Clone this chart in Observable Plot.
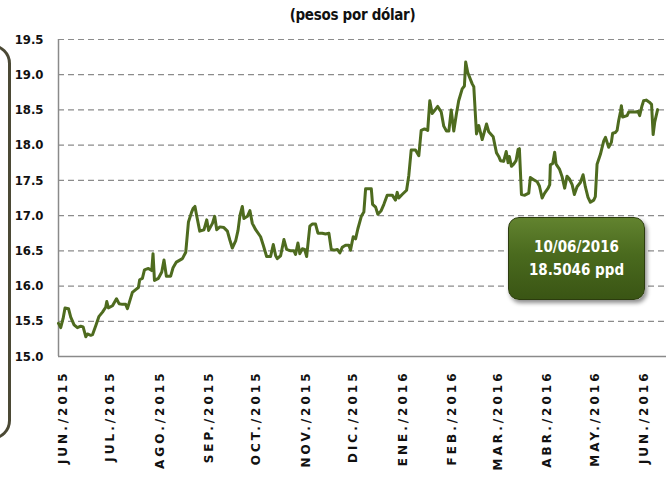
<!DOCTYPE html>
<html>
<head>
<meta charset="utf-8">
<script src="https://cdn.jsdelivr.net/npm/d3@7"></script>
<script src="https://cdn.jsdelivr.net/npm/@observablehq/plot@0.6"></script>
<style>
  html, body { margin: 0; padding: 0; background: #fff; }
  #wrap { position: relative; width: 667px; height: 479px; overflow: hidden; }
  .narrow { font-family: "DejaVu Sans", sans-serif; font-stretch: condensed; font-weight: bold; }
  #title { position: absolute; left: 0; width: 705px; top: 6px; text-align: center; font-size: 15px; color: #111; letter-spacing: -0.3px; }
  #deco { position: absolute; left: -28px; top: 44px; width: 33px; height: 390px;
    border: 3px solid #4b4935; border-radius: 30px; }
  #note { position: absolute; left: 508px; top: 217px; width: 135px; height: 81px;
    border-radius: 11px; border: 1.5px solid #2c3c0e;
    background: linear-gradient(#62832f, #4a6a1e 45%, #3a5514);
    box-shadow: 2px 3px 4px rgba(0,0,0,0.45);
    color: #fff; text-align: center; font-size: 15px; line-height: 23px;
    display: flex; flex-direction: column; justify-content: center; }
  #chart { position: absolute; left: 0; top: 0; }
  g[aria-label="x-axis tick label"] text { letter-spacing: 3px; }
  g[aria-label="y-axis tick label"] text { font-stretch: condensed; }
</style>
</head>
<body>
<div id="wrap">
  <div id="chart"></div>
  <div id="deco"></div>
  <div id="title" class="narrow">(pesos por dólar)</div>
  <div id="note" class="narrow"><div>10/06/2016</div><div>18.5046 ppd</div></div>
</div>
<script>
// days after 1 June 2015
const dayOffsets = [-2.7,-1.3,0.2,1.4,3.6,5.0,7.1,9.2,11.3,12.8,14.5,15.5,17.6,18.7,20.8,22.8,25.0,27.0,27.7,28.7,
  31.3,33.8,35.4,37.5,39.6,40.7,43.8,45.9,47.6,48.4,50.1,51.4,53.9,56.0,56.8,57.7,60.2,62.3,63.7,65.2,
  67.9,69.4,71.5,75.3,77.4,79.1,81.1,82.0,83.2,84.1,86.2,88.9,90.6,91.8,94.2,95.6,96.9,98.9,101.4,103.6,
  105.2,106.7,108.8,110.3,111.5,113.0,114.0,116.2,117.8,119.3,121.4,124.5,126.2,128.3,130.8,132.5,134.0,135.0,137.1,139.2,
  140.9,143.4,145.5,146.5,148.0,149.2,150.8,152.2,153.5,155.5,157.0,159.1,160.6,163.3,165.4,167.5,169.0,171.1,172.8,174.4,
  175.9,178.0,180.1,181.1,182.8,184.3,185.7,187.9,189.5,190.6,194.2,195.0,196.9,198.3,200.4,202.1,204.2,207.4,209.4,210.5,
  211.5,213.6,216.4,217.8,219.3,222.0,224.1,225.6,227.7,229.7,231.0,232.5,234.0,236.0,238.2,239.8,241.5,243.0,244.5,246.1,
  247.8,249.2,251.4,252.8,253.6,254.9,257.7,258.7,260.4,261.8,264.0,266.7,268.1,270.9,273.0,274.4,275.5,277.5,279.1,280.3,
  281.1,282.4,283.8,285.3,286.6,287.4,288.7,290.8,293.3,294.3,296.4,298.6,300.0,301.7,303.3,305.5,306.5,306.9,308.4,309.6,
  310.5,312.6,314.3,315.9,317.4,318.9,320.6,322.0,323.7,325.8,327.5,328.9,330.6,332.1,334.2,335.2,336.3,338.4,340.5,341.6,
  343.6,345.3,346.1,347.8,348.9,349.9,351.0,351.6,352.4,355.2,356.2,358.3,360.4,362.1,363.1,364.6,365.6,367.2,369.2,370.6,
  371.6,372.6,374.4];
const rates = [15.47,15.41,15.54,15.69,15.68,15.56,15.45,15.41,15.43,15.42,15.28,15.32,15.30,15.31,15.44,15.57,15.63,15.70,15.78,15.69,
  15.72,15.82,15.75,15.74,15.74,15.68,15.91,15.95,15.98,16.09,16.11,16.23,16.25,16.22,16.46,16.08,16.11,16.20,16.37,16.14,
  16.14,16.26,16.34,16.39,16.48,16.91,17.05,17.10,17.13,17.02,16.78,16.80,16.94,16.79,16.89,16.99,16.80,16.84,16.83,16.78,
  16.65,16.54,16.64,16.79,17.00,17.13,16.96,16.99,17.07,16.89,16.80,16.70,16.58,16.42,16.42,16.59,16.43,16.39,16.43,16.66,
  16.52,16.50,16.50,16.45,16.61,16.46,16.53,16.52,16.42,16.85,16.88,16.88,16.75,16.75,16.74,16.75,16.52,16.51,16.52,16.47,
  16.55,16.58,16.58,16.51,16.70,16.67,16.81,16.99,17.05,17.38,17.38,17.16,17.12,17.02,17.07,17.16,17.29,17.29,17.22,17.33,
  17.25,17.30,17.36,17.57,17.93,17.93,17.85,18.21,18.23,18.21,18.63,18.45,18.49,18.55,18.47,18.27,18.20,18.20,18.50,18.20,
  18.45,18.63,18.80,18.84,19.18,19.03,18.87,18.83,18.16,18.28,18.08,18.30,18.19,18.12,17.89,17.84,17.78,17.77,17.91,17.75,
  17.84,17.70,17.73,17.78,17.94,17.95,17.30,17.29,17.32,17.54,17.51,17.48,17.42,17.25,17.32,17.39,17.44,17.72,17.74,17.90,
  17.73,17.66,17.55,17.39,17.56,17.52,17.44,17.30,17.41,17.47,17.58,17.41,17.26,17.19,17.22,17.27,17.73,17.87,18.06,18.11,
  17.97,18.04,18.17,18.18,18.21,18.35,18.47,18.56,18.40,18.42,18.47,18.47,18.47,18.48,18.42,18.56,18.63,18.64,18.61,18.58,
  18.15,18.33,18.5046];
const tickDates = ["2015-06-01","2015-07-01","2015-08-01","2015-09-01","2015-10-01","2015-11-01","2015-12-01",
  "2016-01-01","2016-02-01","2016-03-01","2016-04-01","2016-05-01","2016-06-01"];
const tickLabels = ["JUN./2015","JUL./2015","AGO./2015","SEP./2015","OCT./2015","NOV./2015","DIC./2015",
  "ENE./2016","FEB./2016","MAR./2016","ABR./2016","MAY./2016","JUN./2016"];
const yTicks = [15.0,15.5,16.0,16.5,17.0,17.5,18.0,18.5,19.0,19.5];

const DAY = 86400000;
const base = Date.UTC(2015, 5, 1);
const data = dayOffsets.map((d, i) => ({date: new Date(base + d * DAY), value: rates[i]}));
const ticks = tickDates.map(s => new Date(s + "T00:00:00Z"));
const labelOf = new Map(ticks.map((t, i) => [+t, tickLabels[i]]));
const xDomain = [new Date(base - 2.7 * DAY), new Date(base + 380 * DAY)];

const chart = Plot.plot({
  width: 667, height: 479,
  marginTop: 39, marginBottom: 123, marginLeft: 58, marginRight: 1,
  x: {type: "utc", domain: xDomain},
  y: {domain: [15, 19.5]},
  marks: [
    Plot.gridY(yTicks.filter(v => v > 15), {stroke: "#8c8c8c", strokeOpacity: 1, strokeDasharray: "6,4", strokeWidth: 1.2}),
    Plot.ruleY([15], {stroke: "#8a8a8a", strokeWidth: 1.5}),
    Plot.ruleX([xDomain[0]], {stroke: "#8a8a8a", strokeWidth: 1.5}),
    Plot.axisY(yTicks, {tickSize: 0, tickPadding: 15, tickFormat: d => d.toFixed(1), label: null,
      fontFamily: "DejaVu Sans, sans-serif", fontWeight: "bold", fontSize: 13, fill: "#111"}),
    Plot.axisX(ticks, {tickSize: 0, tickPadding: 14, tickRotate: -90, tickFormat: d => labelOf.get(+d), label: null,
      fontFamily: "DejaVu Sans, sans-serif", fontWeight: "bold", fontSize: 12, fill: "#111"}),
    Plot.line(data, {x: "date", y: "value", stroke: "#4e6b1f", strokeWidth: 3, strokeLinejoin: "round"})
  ]
});
document.getElementById("chart").appendChild(chart);
</script>
</body>
</html>
